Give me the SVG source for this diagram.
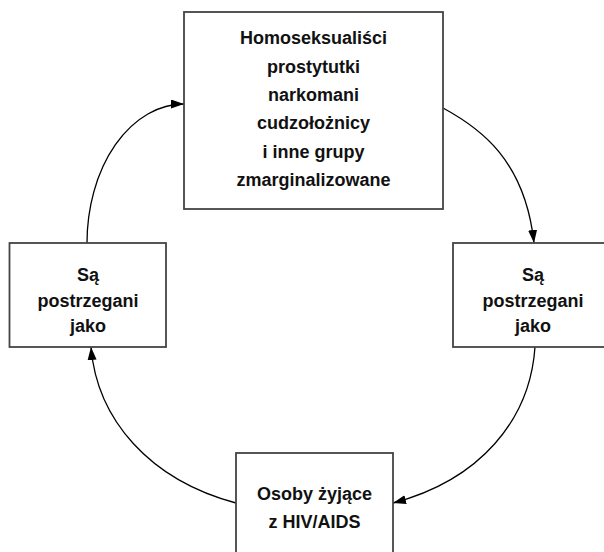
<svg xmlns="http://www.w3.org/2000/svg" width="604" height="552" viewBox="0 0 604 552">
<style>
.box{fill:#fff;stroke:#444;stroke-width:1.8}
.t{font-family:"Liberation Sans",Arial,sans-serif;font-weight:bold;font-size:18px;fill:#111;text-anchor:middle}
.c{fill:none;stroke:#000;stroke-width:1.3}
</style>
<defs>
<marker id="ah" markerUnits="userSpaceOnUse" markerWidth="14" markerHeight="10" refX="13" refY="4.5" orient="auto">
<path d="M0,0 L13,4.5 L0,9 z" fill="#000"/>
</marker>
</defs>
<rect width="604" height="552" fill="#fff"/>
<g id="connectors">
<path class="c" d="M87,243 A97,139 0 0 1 184,104" marker-end="url(#ah)"/>
<path class="c" d="M443,108 C480,128 525,160 534,243" marker-end="url(#ah)"/>
<path class="c" d="M535,347 C530,420 480,480 393,503" marker-end="url(#ah)"/>
<path class="c" d="M236,503 C150,480 97,420 91,347" marker-end="url(#ah)"/>
</g>
<g id="top">
<rect class="box" x="184" y="12" width="259" height="197"/>
<text class="t" x="313.5" y="44">Homoseksualiści</text>
<text class="t" x="313.5" y="73">prostytutki</text>
<text class="t" x="313.5" y="101">narkomani</text>
<text class="t" x="313.5" y="129">cudzołożnicy</text>
<text class="t" x="313.5" y="158">i inne grupy</text>
<text class="t" x="313.5" y="186">zmarginalizowane</text>
</g>
<g id="left">
<rect class="box" x="9.5" y="243" width="156.5" height="104"/>
<text class="t" x="88" y="281">Są</text>
<text class="t" x="88" y="307">postrzegani</text>
<text class="t" x="88" y="332">jako</text>
</g>
<g id="right">
<rect class="box" x="453" y="243" width="160" height="104"/>
<text class="t" x="533" y="281">Są</text>
<text class="t" x="533" y="307">postrzegani</text>
<text class="t" x="533" y="332">jako</text>
</g>
<g id="bottom">
<rect class="box" x="236" y="453" width="157" height="112"/>
<text class="t" x="314.5" y="500">Osoby żyjące</text>
<text class="t" x="314.5" y="528">z HIV/AIDS</text>
</g>
</svg>
